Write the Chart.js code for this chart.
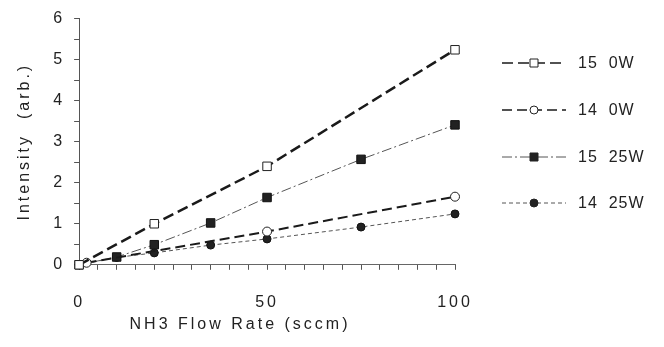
<!DOCTYPE html>
<html>
<head>
<meta charset="utf-8">
<script src="https://cdn.jsdelivr.net/npm/chart.js@4.4.1/dist/chart.umd.min.js"></script>
<style>
  html, body { margin: 0; padding: 0; background: #fff; }
  #wrap { width: 664px; height: 347px; }
</style>
</head>
<body>
<div id="wrap"><canvas id="flowChart" width="664" height="347"></canvas></div>
<script>
// data
const seriesNames = ['15  0W', '14  0W', '15  25W', '14  25W'];

const flow15_0W = [0, 20, 50, 100];
const int15_0W = [0, 1.0, 2.4, 5.24];

const flow14_0W = [2, 50, 100];
const int14_0W = [0.05, 0.81, 1.66];

const flow25W = [0, 10, 20, 35, 50, 75, 100];
const int15_25W = [0, 0.19, 0.49, 1.02, 1.64, 2.57, 3.41];
const int14_25W = [0, 0.18, 0.29, 0.48, 0.63, 0.92, 1.24];

const yTickLabels = ['0', '1', '2', '3', '4', '5', '6'];
const xTickLabels = ['0', '50', '100'];
const xTitle = 'NH3 Flow Rate (sccm)';

function pts(xs, ys) {
  return xs.map(function(x, i) { return { x: x, y: ys[i] }; });
}

const textFont = '"Liberation Sans", Arial, sans-serif';

// the old typewriter-ish look: wide letter spacing on all text
const spacing = {
  id: 'spacing',
  beforeUpdate(chart) { chart.ctx.letterSpacing = '3px'; },
  beforeDraw(chart) { chart.ctx.letterSpacing = '3px'; }
};

// legend + x title drawn by hand, placed like in the original
const sideLegend = {
  id: 'sideLegend',
  afterDraw(chart) {
    const ctx = chart.ctx;
    const rows = [63, 110, 157, 203];
    chart.data.datasets.forEach(function(ds, i) {
      const y = rows[i];
      ctx.save();
      ctx.strokeStyle = ds.borderColor;
      ctx.lineWidth = Math.min(ds.borderWidth, 1.5);
      ctx.setLineDash(ds.borderDash || []);
      ctx.beginPath();
      ctx.moveTo(502, y);
      ctx.lineTo(566, y);
      ctx.stroke();
      ctx.setLineDash([]);
      // marker
      ctx.fillStyle = ds.pointBackgroundColor;
      ctx.strokeStyle = '#222';
      ctx.lineWidth = 1;
      ctx.beginPath();
      if (ds.pointStyle === 'rect') {
        ctx.rect(530, y - 4, 8, 8);
      } else {
        ctx.arc(534, y, 4, 0, Math.PI * 2);
      }
      ctx.fill();
      ctx.stroke();
      ctx.fillStyle = '#222';
      ctx.font = '16px ' + textFont;
      ctx.letterSpacing = '1px';
      ctx.textBaseline = 'middle';
      ctx.textAlign = 'left';
      ctx.fillText(ds.label, 578, y + 1);
      ctx.restore();
    });

    ctx.save();
    ctx.fillStyle = '#222';
    ctx.font = '16px ' + textFont;
    ctx.letterSpacing = '3px';
    ctx.textBaseline = 'middle';
    ctx.textAlign = 'center';
    ctx.fillText(xTitle, 240, 325);
    ctx.restore();
  }
};

const data = {
  datasets: [
    {
      label: seriesNames[0],
      data: pts(flow15_0W, int15_0W),
      borderColor: '#1a1a1a',
      borderWidth: 2.5,
      borderDash: [11, 5],
      pointStyle: 'rect',
      pointRadius: 6,
      pointBackgroundColor: '#fff',
      pointBorderColor: '#222',
      pointBorderWidth: 1
    },
    {
      label: seriesNames[1],
      data: pts(flow14_0W, int14_0W),
      borderColor: '#1a1a1a',
      borderWidth: 2,
      borderDash: [10, 5],
      pointStyle: 'circle',
      pointRadius: 4.5,
      pointBackgroundColor: '#fff',
      pointBorderColor: '#222',
      pointBorderWidth: 1
    },
    {
      label: seriesNames[2],
      data: pts(flow25W, int15_25W),
      borderColor: '#555',
      borderWidth: 1,
      borderDash: [10, 3, 2, 3],
      pointStyle: 'rect',
      pointRadius: 6,
      pointBackgroundColor: '#222',
      pointBorderColor: '#111',
      pointBorderWidth: 1
    },
    {
      label: seriesNames[3],
      data: pts(flow25W, int14_25W),
      borderColor: '#555',
      borderWidth: 1,
      borderDash: [4, 3],
      pointStyle: 'circle',
      pointRadius: 4,
      pointBackgroundColor: '#222',
      pointBorderColor: '#111',
      pointBorderWidth: 1
    }
  ]
};

const config = {
  type: 'line',
  data,
  options: {
    responsive: false,
    animation: false,
    clip: false,
    layout: { padding: { top: 6, right: 209, left: 15, bottom: 12 } },
    plugins: {
      legend: { display: false },
      tooltip: { enabled: false }
    },
    scales: {
      x: {
        type: 'linear',
        min: 0,
        max: 100,
        border: { display: true, color: '#666', width: 1, dash: [8, 4, 2, 4] },
        grid: { drawOnChartArea: false, tickLength: 5, color: '#555' },
        ticks: {
          stepSize: 5,
          autoSkip: false,
          maxRotation: 0,
          padding: 23,
          color: '#222',
          font: { family: textFont, size: 16 },
          callback: function(v) {
            return v % 50 === 0 ? xTickLabels[v / 50] : '';
          }
        }
      },
      y: {
        min: 0,
        max: 6,
        border: { display: true, color: '#555', width: 1 },
        grid: { drawOnChartArea: false, tickLength: 5, color: '#555' },
        ticks: {
          stepSize: 0.5,
          autoSkip: false,
          padding: 9,
          color: '#222',
          font: { family: textFont, size: 16 },
          callback: function(v) {
            return Number.isInteger(v) ? yTickLabels[v] : '';
          }
        },
        title: {
          display: true,
          text: 'Intensity  (arb.)',
          color: '#222',
          font: { family: textFont, size: 16 },
          padding: { top: 0, bottom: 10 }
        }
      }
    }
  },
  plugins: [spacing, sideLegend]
};

const flowChart = new Chart(document.getElementById('flowChart'), config);
</script>
</body>
</html>
